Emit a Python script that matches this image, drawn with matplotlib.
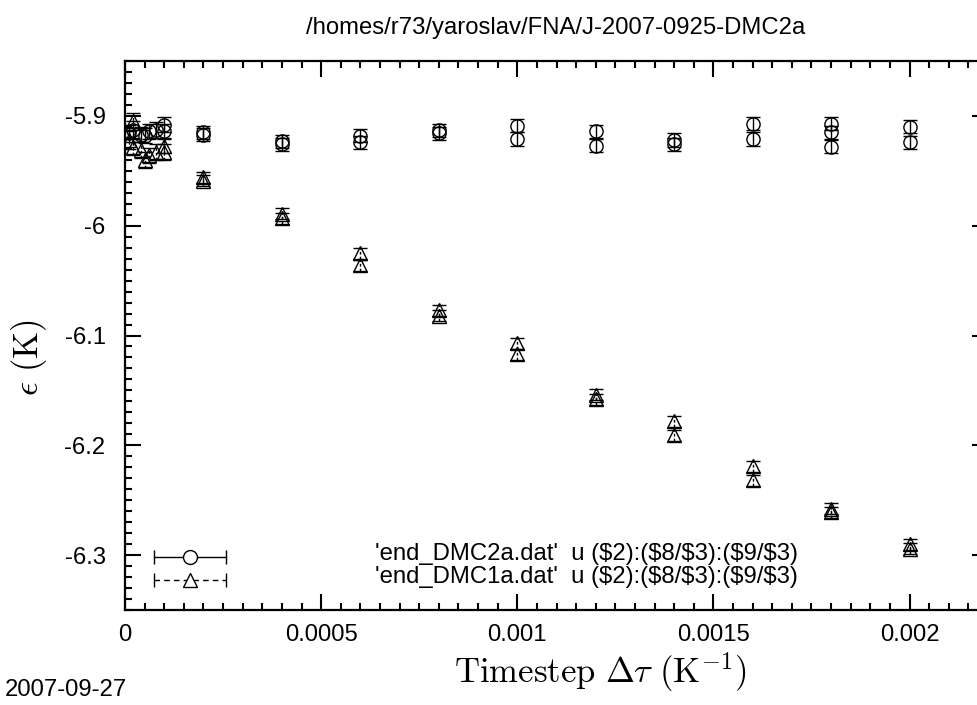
import numpy as np
import matplotlib
matplotlib.use("Agg")
import matplotlib.pyplot as plt
from matplotlib.ticker import MultipleLocator

# DMC2a run (circles): timestep, energy per particle, error
circ_x = [0.00001, 0.00002, 0.00004, 0.00005, 0.00006, 0.00008, 0.0001, 0.0001,
          0.0002, 0.0002, 0.0004, 0.0004, 0.0006, 0.0006, 0.0008, 0.0008,
          0.001, 0.001, 0.0012, 0.0012, 0.0014, 0.0014, 0.0016, 0.0016,
          0.0018, 0.0018, 0.0018, 0.002, 0.002]
circ_y = [-5.916, -5.913, -5.917, -5.918, -5.914, -5.913, -5.908, -5.914,
          -5.915, -5.917, -5.923, -5.926, -5.918, -5.924, -5.913, -5.916,
          -5.909, -5.921, -5.914, -5.927, -5.922, -5.926, -5.907, -5.921,
          -5.907, -5.915, -5.928, -5.910, -5.924]
circ_err = [0.008, 0.008, 0.007, 0.007, 0.007, 0.007, 0.007, 0.007,
            0.006, 0.006, 0.006, 0.006, 0.006, 0.006, 0.006, 0.006,
            0.006, 0.006, 0.006, 0.006, 0.006, 0.006, 0.006, 0.006,
            0.006, 0.006, 0.006, 0.006, 0.006]

# DMC1a run (triangles)
tri_x = [0.00001, 0.00002, 0.00002, 0.00004, 0.00005, 0.00006, 0.00008, 0.0001, 0.0001,
         0.0002, 0.0002, 0.0004, 0.0004, 0.0006, 0.0006, 0.0008, 0.0008,
         0.001, 0.001, 0.0012, 0.0012, 0.0014, 0.0014, 0.0016, 0.0016,
         0.0018, 0.0018, 0.002, 0.002]
tri_y = [-5.922, -5.905, -5.928, -5.931, -5.940, -5.936, -5.933, -5.927, -5.933,
         -5.956, -5.959, -5.989, -5.993, -6.025, -6.036, -6.077, -6.082,
         -6.107, -6.117, -6.154, -6.158, -6.178, -6.191, -6.219, -6.232,
         -6.258, -6.261, -6.290, -6.294]
tri_err = [0.008, 0.008, 0.008, 0.007, 0.007, 0.007, 0.007, 0.007, 0.007,
           0.005, 0.005, 0.005, 0.005, 0.005, 0.005, 0.005, 0.005,
           0.005, 0.005, 0.005, 0.005, 0.005, 0.005, 0.005, 0.005,
           0.005, 0.005, 0.005, 0.005]

xtick_vals = [0, 0.0005, 0.001, 0.0015, 0.002]
xtick_labels = ["0", "0.0005", "0.001", "0.0015", "0.002"]
ytick_vals = [-6.3, -6.2, -6.1, -6.0, -5.9]
ytick_labels = ["-6.3", "-6.2", "-6.1", "-6", "-5.9"]

legend_labels = ["'end_DMC2a.dat'  u ($2):($8/$3):($9/$3)",
                 "'end_DMC1a.dat'  u ($2):($8/$3):($9/$3)"]

plt.rcParams['font.family'] = ['Liberation Sans', 'DejaVu Sans']
plt.rcParams['mathtext.fontset'] = 'cm'
FS = 17.2

W, H = 977, 705
fig = plt.figure(figsize=(W / 100, H / 100), dpi=100)
# plot box runs a little past the right edge of the page
ax = fig.add_axes([125 / W, 95 / H, 863 / W, 549 / H])

ax.errorbar(circ_x, circ_y, yerr=circ_err, fmt='o', mfc='none', mec='k',
            ms=9.5, mew=1.0, ecolor='k', elinewidth=1.0, capsize=5, capthick=1.0)
eb = ax.errorbar(tri_x, tri_y, yerr=tri_err, fmt='^', mfc='none', mec='k',
                 ms=10, mew=1.0, ecolor='k', elinewidth=1.0, capsize=5, capthick=1.0)
eb[2][0].set_linestyle((0, (2, 1.5)))

ax.set_xlim(0, 0.0022)
ax.set_ylim(-6.35, -5.85)
ax.set_xticks(xtick_vals)
ax.set_xticklabels(xtick_labels)
ax.set_yticks(ytick_vals)
ax.set_yticklabels(ytick_labels)
ax.xaxis.set_minor_locator(MultipleLocator(0.00005))
ax.yaxis.set_minor_locator(MultipleLocator(0.01))
ax.tick_params(which='both', direction='in', top=True, right=True, width=1.5,
               labelsize=FS)
ax.tick_params(which='major', length=11.5)
ax.tick_params(which='minor', length=5)
ax.tick_params(axis='x', pad=10)
ax.tick_params(axis='y', pad=14)
for sp in ax.spines.values():
    sp.set_linewidth(1.6)

# key, drawn in axes fractions
key_rows = [(610 - 557) / 549, (610 - 580) / 549]
for lab, mk, ls, yk in zip(legend_labels, ['o', '^'], ['-', (0, (4, 3))], key_rows):
    ax.plot([29 / 863, 101 / 863], [yk, yk], transform=ax.transAxes, color='k',
            lw=1.0, ls=ls, marker='|', ms=10, mew=1.0)
    ax.plot([65 / 863], [yk], transform=ax.transAxes, marker=mk, mfc='white',
            mec='k', ms=10, mew=1.0, ls='none')
    ax.text(673 / 863, yk + 3 / 549, lab, transform=ax.transAxes, ha='right',
            va='center', fontsize=FS)

fig.text(556 / W, 1 - 28 / H, "/homes/r73/yaroslav/FNA/J-2007-0925-DMC2a",
         ha='center', va='center', fontsize=FS)
fig.text(600 / W, 1 - 672 / H, r'$\mathrm{Timestep}\ \Delta\tau\ (\mathrm{K}^{-1})$',
         ha='center', va='center', fontsize=25)
fig.text(29 / W, 1 - 358 / H, r'$\epsilon\ (\mathrm{K})$', rotation=90,
         ha='center', va='center', fontsize=25)
fig.text(5 / W, 1 - 690 / H, "2007-09-27", ha='left', va='center', fontsize=FS)

fig.savefig("out.png", dpi=100)
